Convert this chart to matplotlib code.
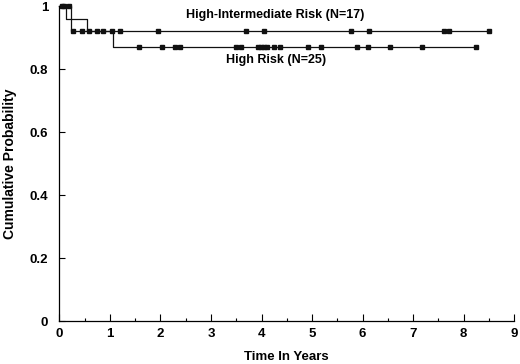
import matplotlib
matplotlib.use('Agg')
import matplotlib.pyplot as plt
import numpy as np

plt.rcParams['font.family'] = ['Liberation Sans', 'DejaVu Sans']
plt.rcParams['font.weight'] = 'bold'

# High-Intermediate Risk (N=17)
hi_step_t = [0.0, 0.23]
hi_step_s = [1.0, 0.922]
hi_cens = [0.05, 0.20, 0.28, 0.45, 0.86, 1.04, 1.20, 1.96, 3.69, 4.05,
           5.78, 6.13, 7.61, 7.71, 8.50]

# High Risk (N=25)
h_step_t = [0.0, 0.13, 0.54, 1.06]
h_step_s = [1.0, 0.959, 0.92, 0.871]
h_cens = [0.09, 0.59, 0.75, 1.58, 2.04, 2.29, 2.38, 3.50, 3.59, 3.93, 3.99,
          4.05, 4.10, 4.25, 4.36, 4.92, 5.18, 5.88, 6.11, 6.54, 7.17, 8.24]

x_ticks = list(range(10))
y_ticks = [0, 0.2, 0.4, 0.6, 0.8, 1]
y_labels = ['0', '0.2', '0.4', '0.6', '0.8', '1']


def km_line(ax, step_t, step_s, cens):
    step_t = np.asarray(step_t)
    step_s = np.asarray(step_s)
    t_end = max(cens)
    tt = np.append(step_t, t_end)
    ss = np.append(step_s, step_s[-1])
    ax.step(tt, ss, where='post', color='#111111', lw=0.9, clip_on=False)
    idx = np.searchsorted(step_t, cens, side='right') - 1
    ax.plot(cens, step_s[idx], ls='none', marker='s', ms=2.5,
            color='#111111', clip_on=False)


fig = plt.figure(figsize=(5.2, 3.64), dpi=100)
ax = fig.add_axes([0.114, 0.118, 0.875, 0.8655])

km_line(ax, hi_step_t, hi_step_s, hi_cens)
km_line(ax, h_step_t, h_step_s, h_cens)

ax.text(4.27, 0.971, 'High-Intermediate Risk (N=17)', ha='center', va='center',
        fontsize=9, fontweight='bold')
ax.text(4.28, 0.829, 'High Risk (N=25)', ha='center', va='center',
        fontsize=9, fontweight='bold')

ax.set_xlim(0, 9)
ax.set_ylim(0, 1)
ax.spines['top'].set_visible(False)
ax.spines['right'].set_visible(False)
for s in ('left', 'bottom'):
    ax.spines[s].set_linewidth(0.9)

ax.set_xticks(x_ticks)
ax.set_xticks(np.arange(0.5, 9, 1), minor=True)
ax.set_yticks(y_ticks)
ax.set_yticklabels(y_labels)
ax.tick_params(axis='x', which='major', direction='in', length=5, width=0.8,
               pad=5, labelsize=9.5)
ax.tick_params(axis='x', which='minor', direction='in', length=2.5, width=0.8)
ax.tick_params(axis='y', which='major', direction='in', length=4, width=0.8,
               pad=8, labelsize=9.5)

ax.set_xlabel('Time In Years', fontsize=9.5, fontweight='bold', labelpad=8)
ax.set_ylabel('Cumulative Probability', fontsize=10, fontweight='bold', labelpad=9)

fig.savefig('out.png', dpi=100)
